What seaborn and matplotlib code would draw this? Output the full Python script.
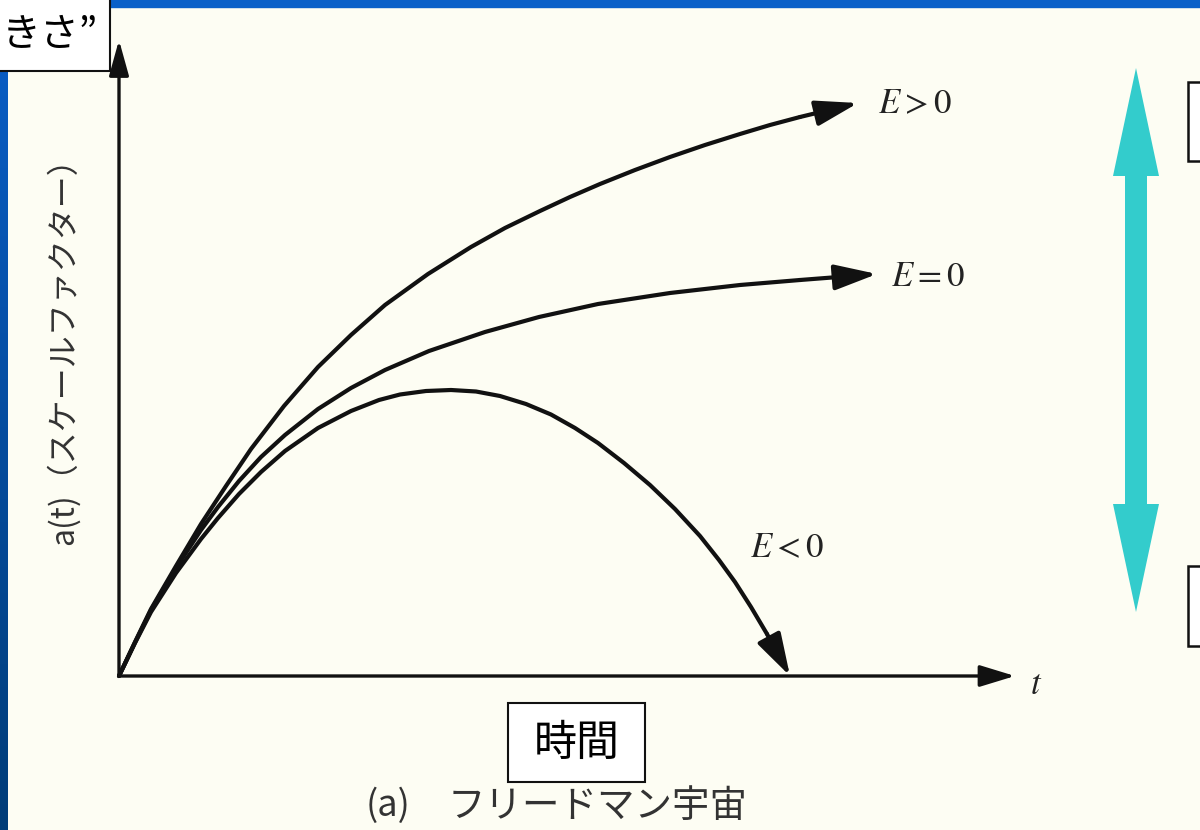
import matplotlib
matplotlib.use("Agg")
import matplotlib.pyplot as plt
import matplotlib.patches as mpatches
from matplotlib.colors import LinearSegmentedColormap
import numpy as np
import pandas as pd
import seaborn as sns

# ---- data (t = time, a = scale factor, arbitrary units) ----
t_pos = [0, 16, 32, 57, 82, 107, 132, 165, 199, 232, 266, 309, 352, 386, 421, 451,
         481, 516, 551, 586, 621, 651, 681, 710, 739]
a_pos = [0, 34, 67, 110, 152, 190, 227, 270, 309, 341, 371, 402, 429, 448, 465, 479,
         492, 506, 519, 531, 542, 551, 559, 566, 573]

t_zero = [0, 16, 32, 57, 82, 99, 120, 142, 166, 199, 232, 266, 310, 366, 420, 479,
          551, 621, 681, 720, 758]
a_zero = [0, 33.5, 66, 108, 146, 169, 195, 219, 241, 267, 288, 306, 325, 344, 359, 372,
          383, 391, 396, 399, 402]

t_neg = [0, 16, 32, 57, 82, 99, 120, 142, 166, 199, 232, 260, 281, 307, 332, 357, 381,
         407, 432, 456, 479, 505, 531, 556, 581, 600, 616, 632, 648, 660, 671]
a_neg = [0, 33, 64, 103, 137, 158, 182, 204, 225, 248, 265, 276, 281.5, 285, 286, 284.5,
         280, 272, 261.5, 248, 233, 213, 191, 167, 140, 116, 94, 69, 42, 20, 0]

labels = ["E>0", "E=0", "E<0"]
label_tex = [r"$E>0$", r"$E=0$", r"$E<0$"]
ylabel_text = "a(t)（スケールファクター）"
xlabel_box = "時間"
caption_a = "(a)"
caption_b = "フリードマン宇宙"
corner_text = "きさ”"

sns.set_theme(style="white")
plt.rcParams["font.family"] = ["Noto Sans CJK JP", "DejaVu Sans"]
plt.rcParams["mathtext.fontset"] = "stix"

W, H = 1200, 830
bg = "#fdfdf3"
fig = plt.figure(figsize=(12, 8.3), dpi=100)
fig.patch.set_facecolor(bg)
ax = fig.add_axes([0, 0, 1, 1])
ox, oy = 119, 676  # origin position in the canvas
ax.set_facecolor(bg)
ax.axis("off")

def px(x, y):
    return (x - ox, oy - y)

# slide decoration: blue bars
ax.add_patch(mpatches.Rectangle(px(0, 7), W, 8, color="#0a60c8", zorder=1))
grad = np.linspace(0, 1, 256).reshape(-1, 1)
cm = LinearSegmentedColormap.from_list("b", ["#0a5fc9", "#003c78"])
x0, y0 = px(0, 830)
x1, y1 = px(8, 0)
ax.imshow(grad, cmap=cm, extent=[x0, x1, y0, y1], origin="upper", aspect="auto", zorder=1)

ink = "#111111"
curves = [(t_pos, a_pos), (t_zero, a_zero), (t_neg, a_neg)]
df = pd.concat([pd.DataFrame({"t": T[:-2], "a": A[:-2], "E": lab})
                for (T, A), lab in zip(curves, labels)])
sns.lineplot(data=df, x="t", y="a", hue="E", palette=[ink, ink, ink], sort=False,
             estimator=None, lw=3.0, legend=False, ax=ax, zorder=3,
             solid_capstyle="round", solid_joinstyle="round")
for T, A in curves:
    ax.annotate("", xy=(T[-1], A[-1]), xytext=(T[-3], A[-3]),
                arrowprops=dict(arrowstyle="-|>,head_length=2.0,head_width=0.6",
                                mutation_scale=13, lw=3.0, color=ink,
                                shrinkA=0, shrinkB=0), zorder=4)

ax.set_xlim(-ox, W - ox)
ax.set_ylim(-(H - oy), oy)

# axes arrows
ax.annotate("", xy=px(119, 40), xytext=(0, 0),
            arrowprops=dict(arrowstyle="-|>,head_length=1.8,head_width=0.5",
                            mutation_scale=12, lw=2.4, color=ink, shrinkA=0, shrinkB=0))
ax.annotate("", xy=px(1015, 676), xytext=(0, 0),
            arrowprops=dict(arrowstyle="-|>,head_length=1.8,head_width=0.55",
                            mutation_scale=12, lw=2.4, color=ink, shrinkA=0, shrinkB=0))

# E labels
lab_kw = dict(fontsize=25, color="#222", va="center", ha="left")
ax.text(*px(878, 104), label_tex[0], **lab_kw)
ax.text(*px(891, 276), label_tex[1], **lab_kw)
ax.text(*px(750, 548), label_tex[2], **lab_kw)
ax.text(*px(1030, 684), r"$t$", **lab_kw)

# y label (rotated)
ax.text(*px(63, 343), ylabel_text, fontsize=23, color="#333", rotation=90,
        va="center", ha="center")

# caption
ax.text(*px(388, 806), caption_a, fontsize=26, color="#333", va="center", ha="center")
ax.text(*px(598, 806), caption_b, fontsize=27, color="#333", va="center", ha="center")

# time box
ax.add_patch(mpatches.Rectangle(px(508, 782), 137, 79, facecolor="white",
                                edgecolor="#111", lw=1.5, zorder=5))
ax.text(*px(577, 744), xlabel_box, fontsize=31, color="black", va="center",
        ha="center", zorder=6)

# corner box
ax.add_patch(mpatches.Rectangle(px(-5, 71), 115, 80, facecolor="white",
                                edgecolor="#111", lw=1.5, zorder=5))
ax.text(*px(2, 35), corner_text, fontsize=28, color="black", va="center",
        ha="left", zorder=6)

# right-side boxes (cut off)
for ytop, ybot in [(82, 161), (566, 646)]:
    ax.add_patch(mpatches.Rectangle(px(1188, ybot), 30, ybot - ytop, facecolor="white",
                                    edgecolor="#111", lw=1.8, zorder=5))

# cyan double arrow
cyan = "#33cccc"
cx, cy = px(1136, 340)
_, ytop = px(1136, 68)
_, ybot = px(1136, 612)
for tip in (ytop, ybot):
    ax.add_patch(mpatches.FancyArrow(cx, cy, 0, tip - cy, width=22, head_width=46,
                                     head_length=108, length_includes_head=True,
                                     color=cyan, lw=0, zorder=5))

fig.savefig("out.png", dpi=100, facecolor=fig.get_facecolor())
